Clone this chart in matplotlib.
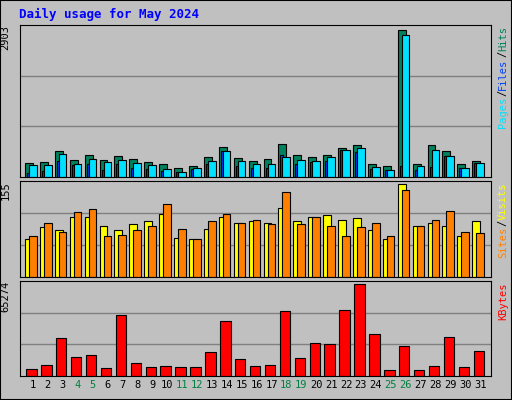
import matplotlib
matplotlib.use("Agg")
import matplotlib.pyplot as plt
import numpy as np

days = list(range(1, 32))
weekends = [4, 5, 11, 12, 18, 19, 25, 26]
hits = [283, 302, 519, 342, 440, 342, 420, 361, 302, 263, 184, 223, 401, 598, 381, 322,
        361, 657, 440, 401, 440, 578, 637, 263, 223, 2903, 263, 637, 519, 263, 322]
files = [243, 243, 460, 263, 361, 302, 342, 283, 243, 164, 105, 184, 322, 519, 322, 263,
         263, 401, 342, 322, 401, 539, 578, 204, 145, 2805, 223, 539, 420, 184, 283]
pages = [85, 125, 322, 243, 263, 145, 263, 184, 164, 125, 105, 164, 263, 519, 223, 184,
         184, 440, 263, 302, 322, 539, 499, 164, 145, 223, 145, 204, 420, 184, 283]
visits = [63, 83, 78, 101, 101, 85, 78, 88, 93, 105, 66, 64, 81, 100, 90, 93,
          91, 116, 93, 101, 103, 95, 98, 78, 64, 155, 85, 90, 85, 69, 93]
sites = [68, 91, 76, 108, 113, 69, 71, 78, 85, 122, 80, 64, 93, 106, 91, 95,
         88, 142, 88, 100, 85, 68, 83, 90, 68, 145, 85, 95, 111, 76, 74]
kbytes = [5236, 8092, 27370, 13804, 15232, 5950, 43078, 9520, 6664, 7378, 6664, 6664,
          17374, 39508, 12376, 7378, 8092, 45934, 13090, 23800, 23086, 46648, 65274,
          30226, 4522, 21658, 4522, 7378, 28084, 6664, 18088]

BG = "#C0C0C0"
C_HITS, C_FILES, C_PAGES = "#00805C", "#00E0FF", "#0040FF"
C_VISITS, C_SITES, C_KB = "#FFFF00", "#FF8000", "#FF0000"
MONO = "DejaVu Sans Mono"

x = np.array(days)
fig = plt.figure(figsize=(5.12, 4.0), dpi=100, facecolor=BG)
fig.patches.append(plt.Rectangle((0, 0), 1, 1, transform=fig.transFigure,
                                 fill=False, edgecolor="black", lw=1.5))
fig.text(0.037, 0.963, "Daily usage for May 2024", color="#0000FF",
         fontsize=9, fontweight="bold", family=MONO, va="center")

boxes = [(0.5575, 0.9375), (0.3075, 0.5475), (0.06, 0.2975)]
axs = []
for b, t in boxes:
    ax = fig.add_axes([0.039, b, 0.92, t - b], facecolor=BG)
    ax.set_xlim(0.13, 31.72)
    for s in ax.spines.values():
        s.set_color("black")
    ax.tick_params(left=False, bottom=False, labelleft=False, labelbottom=False)
    axs.append(ax)

def grid(ax, top):
    ymax = top / 0.965
    ax.set_ylim(0, ymax)
    for f in (1 / 3, 2 / 3):
        ax.axhline(ymax * f, color="#808080", lw=1, zorder=0)
    ax.text(-0.02, 1.0, str(top), transform=ax.transAxes, rotation=90,
            ha="right", va="top", fontsize=7.5, family=MONO)

kw = dict(edgecolor="black", linewidth=0.8, zorder=2)
ax = axs[0]
grid(ax, max(hits))
ax.bar(x - 0.27, hits, width=0.53, color=C_HITS, **kw)
ax.bar(x - 0.33, pages, width=0.14, color=C_PAGES, **kw)
ax.bar(x - 0.01, files, width=0.51, color=C_FILES, **kw)

ax = axs[1]
grid(ax, max(visits))
ax.bar(x - 0.27, visits, width=0.53, color=C_VISITS, **kw)
ax.bar(x - 0.01, sites, width=0.51, color=C_SITES, **kw)

ax = axs[2]
grid(ax, max(kbytes))
ax.bar(x - 0.1, kbytes, width=0.7, color=C_KB, **kw)

for d in days:
    axs[2].text(d, -0.09, str(d), transform=axs[2].get_xaxis_transform(),
                ha="center", va="center", fontsize=7.5, family=MONO,
                color="#008040" if d in weekends else "black")

def side(ax, parts):
    # stacked vertical label on the right, reading bottom-up
    y = 0.0
    pos = []
    for txt, col in parts:
        pos.append((txt, col, y))
        y += len(txt)
    total = y
    for txt, col, y0 in pos:
        ax.text(1.025, 1.0 - (total - y0) * 0.043 * 150 / (ax.bbox.height),
                txt, transform=ax.transAxes, rotation=90, ha="center",
                va="bottom", fontsize=7.5, family=MONO, color=col)

side(axs[0], [("Pages", C_FILES), ("/", "black"), ("Files", C_PAGES),
              ("/", "black"), ("Hits", C_HITS)])
side(axs[1], [("Sites", C_SITES), ("/", "black"), ("Visits", C_VISITS)])
side(axs[2], [("KBytes", C_KB)])

fig.savefig("out.png", dpi=100, facecolor=BG)
